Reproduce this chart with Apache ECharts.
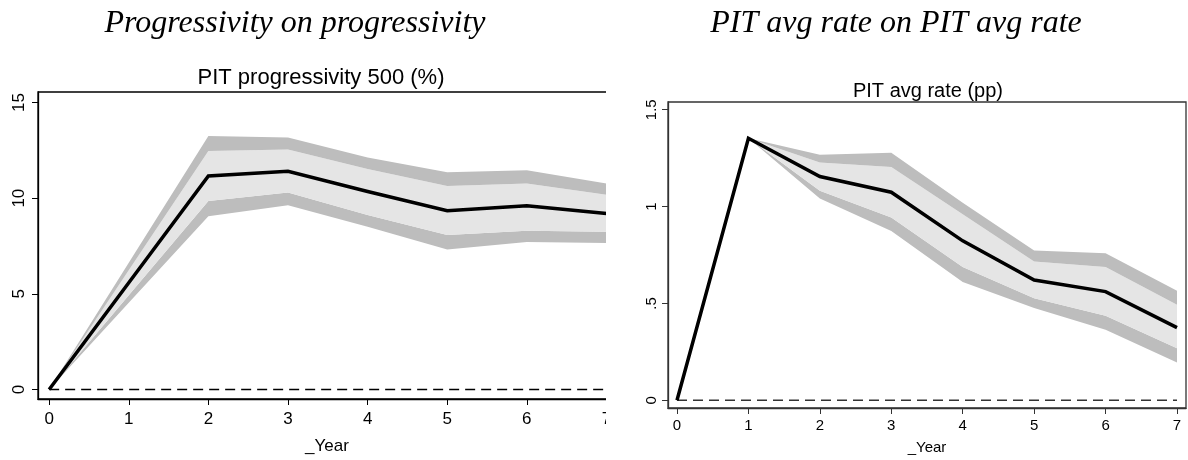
<!DOCTYPE html>
<html>
<head>
<meta charset="utf-8">
<script src="https://cdn.jsdelivr.net/npm/echarts@6/dist/echarts.min.js"></script>
<style>
  html, body { margin: 0; padding: 0; background: #fff; }
  #wrapL { position: absolute; left: 0; top: 0; width: 606px; height: 460px; overflow: hidden; }
  #chartL { position: absolute; left: 0; top: 0; width: 640px; height: 460px; }
  #chartR { position: absolute; left: 594px; top: 0; width: 594px; height: 460px; }
</style>
</head>
<body>
<div id="wrapL"><div id="chartL"></div></div>
<div id="chartR"></div>
<script>
// ---------- data ----------
const years = [0, 1, 2, 3, 4, 5, 6, 7];
const xTicks = [0, 1, 2, 3, 4, 5, 6, 7];

// Left panel: PIT progressivity 500 (%)
const progMean    = [0, 5.58, 11.16, 11.41, 10.35, 9.34, 9.60, 9.20];
const progOuterHi = [0, 6.62, 13.25, 13.17, 12.12, 11.36, 11.46, 10.77];
const progInnerHi = [0, 6.23, 12.46, 12.54, 11.53, 10.64, 10.77, 10.18];
const progInnerLo = [0, 4.92, 9.85, 10.30, 9.12, 8.08, 8.30, 8.25];
const progOuterLo = [0, 4.53, 9.06, 9.63, 8.50, 7.32, 7.71, 7.66];
const progYTicks = [0, 5, 10, 15];
const progYLabels = ['0', '5', '10', '15'];

// Right panel: PIT avg rate (pp)
const rateMean    = [0, 1.353, 1.155, 1.074, 0.823, 0.621, 0.561, 0.375];
const rateOuterHi = [null, 1.353, 1.268, 1.278, 1.020, 0.773, 0.759, 0.566];
const rateInnerHi = [null, 1.353, 1.227, 1.205, 0.961, 0.717, 0.688, 0.493];
const rateInnerLo = [null, 1.353, 1.082, 0.944, 0.688, 0.527, 0.436, 0.268];
const rateOuterLo = [null, 1.353, 1.042, 0.874, 0.611, 0.476, 0.364, 0.195];
const rateYTicks = [0, 0.5, 1, 1.5];
const rateYLabels = ['0', '.5', '1', '1.5'];

const OUTER = '#bdbdbd';
const INNER = '#e5e5e5';

function band(name, lo, hi, color) {
  return {
    type: 'custom', name: name, z: 1,
    data: [[0]],
    renderItem: function (params, api) {
      const top = [], bot = [];
      for (let i = 0; i < years.length; i++) {
        if (lo[i] == null || hi[i] == null) continue;
        top.push(api.coord([years[i], hi[i]]));
        bot.push(api.coord([years[i], lo[i]]));
      }
      const pts = top.concat(bot.reverse());
      return { type: 'polygon', shape: { points: pts }, style: { fill: color, stroke: null } };
    },
    silent: true
  };
}

function makeOption(cfg) {
  const yLabelMap = {};
  cfg.yTicks.forEach((v, i) => { yLabelMap[v] = cfg.yLabels[i]; });
  return {
    animation: false,
    graphic: [
      { type: 'text', x: cfg.bigTitleX, y: 24,
        style: { text: cfg.bigTitle, font: 'italic 32px "Liberation Serif"', fill: '#000',
                 textAlign: 'center', textVerticalAlign: 'middle' } },
      { type: 'text', x: cfg.subTitleX, y: cfg.subTitleY,
        style: { text: cfg.subTitle, font: cfg.subFont + 'px "Liberation Sans"', fill: '#000',
                 textAlign: 'center', textVerticalAlign: 'middle' } }
    ],
    grid: { left: cfg.gl, top: cfg.gt, width: cfg.gw, height: cfg.gh,
            show: true, borderColor: cfg.boxColor, borderWidth: 1.3, backgroundColor: 'transparent' },
    xAxis: {
      type: 'value', min: cfg.xmin, max: cfg.xmax,
      name: '_Year', nameLocation: 'middle', nameGap: cfg.nameGap,
      nameTextStyle: { fontFamily: 'Liberation Sans', fontSize: cfg.nameFont, color: '#000' },
      axisLine: { show: true, onZero: false, lineStyle: { color: cfg.boxColor, width: 1.3 } },
      axisTick: { show: true, length: 6, customValues: xTicks, lineStyle: { color: cfg.boxColor, width: 1 } },
      axisLabel: { customValues: xTicks, margin: cfg.xLabelMargin, fontFamily: 'Liberation Sans',
                   fontSize: cfg.tickFont, color: '#000', formatter: v => String(v) },
      splitLine: { show: false }
    },
    yAxis: {
      type: 'value', min: cfg.ymin, max: cfg.ymax,
      axisLine: { show: true, onZero: false, lineStyle: { color: cfg.boxColor, width: 1.3 } },
      axisTick: { show: true, length: 6, customValues: cfg.yTicks, lineStyle: { color: cfg.boxColor, width: 1 } },
      axisLabel: { customValues: cfg.yTicks, rotate: 90, margin: cfg.yLabelMargin, fontFamily: 'Liberation Sans',
                   fontSize: cfg.tickFont, color: '#000',
                   formatter: v => (yLabelMap[v] !== undefined ? yLabelMap[v] : String(v)) },
      splitLine: { show: false }
    },
    series: [
      band('outerLo', cfg.outerLo, cfg.innerLo, OUTER),
      band('inner', cfg.innerLo, cfg.innerHi, INNER),
      band('outerHi', cfg.innerHi, cfg.outerHi, OUTER),
      { type: 'line', name: 'zero', z: 2, symbol: 'none', silent: true,
        data: [[years[0], 0], [years[years.length - 1], 0]],
        lineStyle: { color: cfg.zeroColor, width: 1.6, type: [10, 6] } },
      { type: 'line', name: 'irf', z: 3, symbol: 'none', silent: true,
        data: years.map((x, i) => [x, cfg.mean[i]]),
        lineStyle: { color: '#000', width: 3.5, join: 'miter' } }
    ]
  };
}

const chartL = echarts.init(document.getElementById('chartL'), null, { renderer: 'canvas' });
chartL.setOption(makeOption({
  bigTitle: 'Progressivity on progressivity', bigTitleX: 295,
  subTitle: 'PIT progressivity 500 (%)', subTitleX: 321, subTitleY: 78, subFont: 22,
  gl: 38, gt: 92, gw: 578, gh: 318, xmin: -0.14, xmax: 7.12, ymin: -0.5, ymax: 15.55,
  yTicks: progYTicks, yLabels: progYLabels,
  mean: progMean, outerHi: progOuterHi, innerHi: progInnerHi, innerLo: progInnerLo, outerLo: progOuterLo,
  boxColor: '#000', zeroColor: '#000', tickFont: 17, nameFont: 17, nameGap: 39,
  xLabelMargin: 12, yLabelMargin: 10
}));

const chartR = echarts.init(document.getElementById('chartR'), null, { renderer: 'canvas' });
chartR.setOption(makeOption({
  bigTitle: 'PIT avg rate on PIT avg rate', bigTitleX: 302,
  subTitle: 'PIT avg rate (pp)', subTitleX: 334, subTitleY: 91, subFont: 20,
  gl: 74, gt: 102, gw: 518, gh: 313, xmin: -0.126, xmax: 7.126, ymin: -0.04, ymax: 1.54,
  yTicks: rateYTicks, yLabels: rateYLabels,
  mean: rateMean, outerHi: rateOuterHi, innerHi: rateInnerHi, innerLo: rateInnerLo, outerLo: rateOuterLo,
  boxColor: '#333', zeroColor: '#333', tickFont: 15, nameFont: 15, nameGap: 32,
  xLabelMargin: 10, yLabelMargin: 9
}));
</script>
</body>
</html>
